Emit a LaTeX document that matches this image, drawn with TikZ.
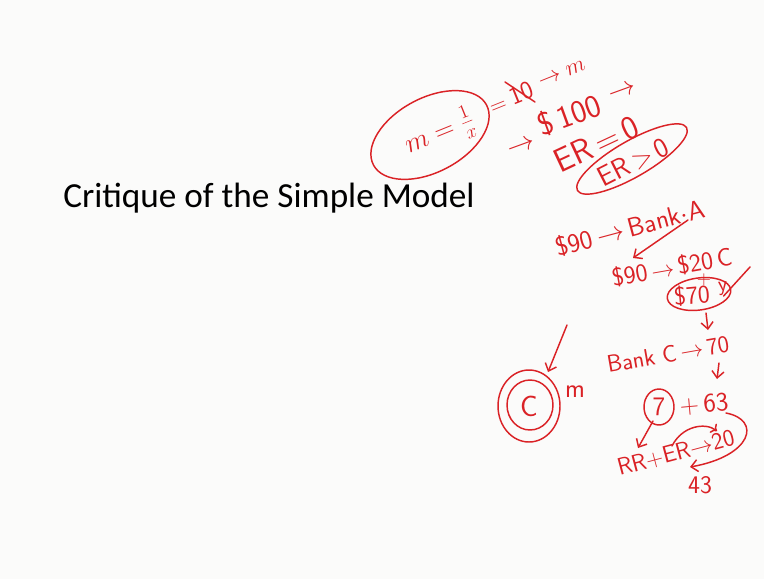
\documentclass[tikz,border=0pt]{standalone}
\usepackage{fontspec}
\setmainfont{Carlito}
\usetikzlibrary{arrows.meta}
\definecolor{ink}{RGB}{218,34,38}
\definecolor{paper}{RGB}{251,251,250}
\begin{document}
\begin{tikzpicture}[x=0.75pt,y=-0.75pt,
  hw/.style={text=ink,font=\sffamily\fontsize{#1}{#1}\selectfont,inner sep=0pt},
  hw/.default=18,
  inkline/.style={draw=ink,line width=1.1pt,line cap=round,line join=round},
  inkarrow/.style={inkline,-{Straight Barb[length=5pt,width=9pt]}},
  title/.style={font=\fontsize{26.4}{30}\selectfont,text=black,inner sep=0pt,anchor=base west}]
\fill[paper] (0,0) rectangle (764,579);
\useasboundingbox (0,0) rectangle (764,579);

% title
\node[title] (title) at (63,207) {Critique of the Simple Model};

% m = 1/x
\node[hw=22,rotate=22] (mx) at (440,133) {$m=\frac{1}{x}$};
\draw[inkline,rotate around={28:(430,135)}] (430,135) ellipse (64 and 37);
\node[hw=18,rotate=22] (eq1) at (499,108) {$=$};
\node[hw=19,rotate=22] (ten) at (521,93) {10};
\draw[inkline] (505,82) -- (535,102);
\node[hw=19,rotate=22] (tom) at (562,74) {$\rightarrow m$};

% -> $100 ->
\node[hw=20,rotate=20] (a1) at (522,147) {$\rightarrow$};
\node[hw=24,rotate=20] (d100) at (569,115) {\$\,100};
\node[hw=20,rotate=20] (a2) at (623,92) {$\rightarrow$};

% ER = 0
\node[hw=25,rotate=25] (er0) at (596,144) {ER$\,=\,$0};
\node[hw=21,rotate=27] (erg) at (633,162) {ER$\,>\,$0};
\draw[inkline,rotate around={30:(632,159)}] (632,159) ellipse (63 and 18);

% $90 -> Bank. A
\node[hw=20,rotate=15] (b90) at (630,228) {\$90$\,\rightarrow\,$Bank$\cdot$A};
\coordinate (arrS) at (688,220);
\coordinate (arrE) at (633,258);
\draw[inkarrow] (arrS) -- (arrE);

% $90 -> $20 C
\node[hw=19,rotate=10] (c90) at (672,267) {\$90$\,\rightarrow\,$\$20\,C};
\node[hw=14] (plus1) at (704,280) {+};
\node[hw=19,rotate=5] (s70) at (692,295) {\$70};
\node[hw=16,rotate=5] (yy) at (723,289) {y};
\draw[inkline,rotate around={8:(699,294)}] (699,294) ellipse (32 and 16);
\coordinate (chk) at (750,267);
\draw[inkline] (yy.south) -- (chk);
\coordinate (dn1a) at (706,313);
\coordinate (dn1b) at (708,330);
\draw[inkarrow] (dn1a) -- (dn1b);

% Bank C -> 70
\node[hw=18,rotate=10] (bc) at (668,354) {Bank C$\,\rightarrow\,$70};
\coordinate (dn2a) at (719,363);
\coordinate (dn2b) at (717,379);
\draw[inkarrow] (dn2a) -- (dn2b);

% big circled C
\node[hw=22] (cc) at (529,406) {C};
\draw[inkline] (530,405) ellipse (23 and 25);
\draw[inkline] (529,406) ellipse (31 and 36);
\coordinate (arrC) at (567,325);
\draw[inkarrow] (arrC) -- (548,372);
\node[hw=20] (mm) at (575,392) {m};

% 7 + 63
\node[hw=20] (seven) at (659,407) {7};
\draw[inkline] (seven) ellipse (15 and 18);
\node[hw=20,rotate=5] (p63) at (704,404) {+\,63};
\coordinate (rrtip) at (638,448);
\draw[inkarrow] (653,421) -- (rrtip);

% RR+ER -> 20
\node[hw=18,rotate=15] (rrer) at (676,453) {RR+ER$\rightarrow$20};
\draw[inkline,->] (672,446) .. controls (682,426) and (705,422) .. (717,431);
\coordinate (c43) at (690,467);
\draw[inkarrow] (726,413) .. controls (762,420) and (752,456) .. (c43);
\node[hw=19] (n43) at (700,485) {43};
\end{tikzpicture}
\end{document}
